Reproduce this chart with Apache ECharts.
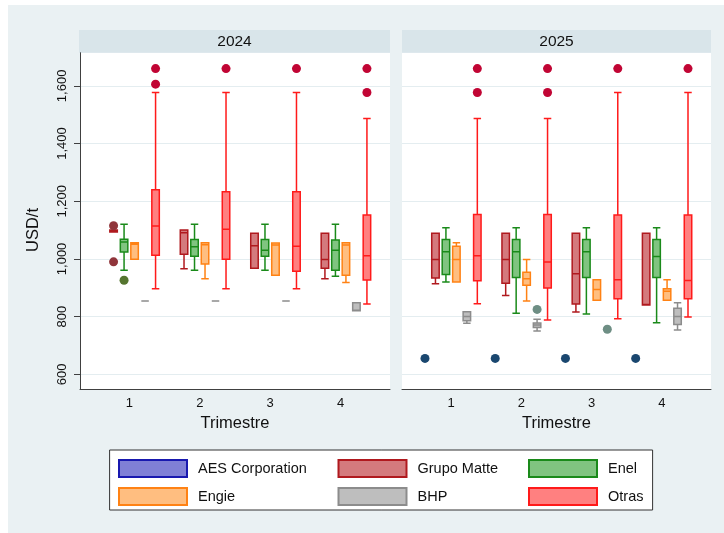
<!DOCTYPE html>
<html>
<head>
<meta charset="utf-8">
<script src="https://cdn.jsdelivr.net/npm/echarts@6/dist/echarts.min.js"></script>
<style>
html,body{margin:0;padding:0;background:#fff;}
#chart{width:724px;height:533px;}
</style>
</head>
<body>
<div id="chart"></div>
<script>
// ---------- data ----------
const quarters = [1, 2, 3, 4];
const years = ['2024', '2025'];
const companies = ['AES Corporation', 'Grupo Matte', 'Enel', 'Engie', 'BHP', 'Otras'];
const yTicks = [600, 800, 1000, 1200, 1400, 1600];

// box stats per quarter: [lower whisker, Q1, median, Q3, upper whisker]; null = no box
const aes2024   = [null, null, null, null];
const matte2024 = [[1093,1093,1097,1100,1100],[966,1016,1091,1100,1100],[968,968,1046,1089,1089],[931,968,998,1089,1089]];
const enel2024  = [[961,1024,1059,1068,1120],[961,1009,1042,1067,1120],[961,1009,1030,1067,1120],[940,961,1030,1066,1120]];
const engie2024 = [[999,999,1051,1056,1056],[931,982,1049,1056,1056],[943,943,1048,1055,1055],[918,943,1048,1056,1056]];
const bhp2024   = [[854,854,854,854,854],[854,854,854,854,854],[854,854,854,854,854],[820,820,822,848,848]];
const otras2024 = [[897,1013,1114,1240,1577],[897,999,1103,1233,1577],[897,957,1044,1233,1577],[844,927,1011,1152,1487]];

const aes2025   = [null, null, null, null];
const matte2025 = [[914,934,998,1089,1089],[873,916,998,1089,1089],[816,844,949,1089,1089],[840,840,842,1089,1089]];
const enel2025  = [[920,946,1025,1067,1108],[812,936,1025,1067,1108],[809,936,1025,1067,1108],[779,936,1008,1067,1108]];
const engie2025 = [[920,920,998,1044,1056],[854,909,931,954,998],[857,857,894,928,928],[857,857,888,897,928]];
const bhp2025   = [[777,786,800,817,817],[750,762,771,778,791],null,[754,773,800,829,848]];
const otras2025 = [[845,924,1011,1154,1487],[788,899,989,1154,1487],[793,862,928,1152,1577],[799,862,925,1152,1577]];

// outside values: [quarter, value]
const aesOut2024   = [];
const matteOut2024 = [[1,1115],[1,990]];
const enelOut2024  = [[1,926]];
const engieOut2024 = [];
const bhpOut2024   = [];
const otrasOut2024 = [[1,1660],[1,1606],[2,1660],[3,1660],[4,1660],[4,1577]];

const aesOut2025   = [[1,655],[2,655],[3,655],[4,655]];
const matteOut2025 = [];
const enelOut2025  = [];
const engieOut2025 = [];
const bhpOut2025   = [[2,825],[3,756]];
const otrasOut2025 = [[1,1660],[1,1577],[2,1660],[2,1577],[3,1660],[4,1660]];

// ---------- styles ----------
const boxes = {
  '2024': [aes2024, matte2024, enel2024, engie2024, bhp2024, otras2024],
  '2025': [aes2025, matte2025, enel2025, engie2025, bhp2025, otras2025]
};
const outs = {
  '2024': [aesOut2024, matteOut2024, enelOut2024, engieOut2024, bhpOut2024, otrasOut2024],
  '2025': [aesOut2025, matteOut2025, enelOut2025, engieOut2025, bhpOut2025, otrasOut2025]
};
const fillColors   = ['#8080d6', '#d47a7d', '#80c480', '#ffbe80', '#bebebe', '#ff8080'];
const borderColors = ['#1919af', '#b0191e', '#1a8a1a', '#ff8214', '#8c8c8c', '#ff1a1a'];
const outColors    = ['#1a476f', '#90353b', '#55752f', '#e37e00', '#6e8e84', '#c10534'];

const FONT = '"Liberation Sans", Arial, sans-serif';
const TXT = '#111111';
const grids = [
  {left: 80, top: 52.7, width: 310, height: 336.6},
  {left: 402, top: 52.7, width: 309, height: 336.6}
];

// pixel offset of each company's box within a quarter (same rule as the boxplot layout)
function slotOffsets(gridWidth) {
  const band = gridWidth / quarters.length;
  const avail = band * 0.8 - 2;
  const gap = avail / companies.length * 0.3;
  const bw = (avail - gap * (companies.length - 1)) / companies.length;
  const res = [];
  let base = bw / 2 - avail / 2;
  for (let i = 0; i < companies.length; i++) { res.push(base); base += gap + bw; }
  return res;
}
const fmt = v => String(v).replace(/\B(?=(\d{3})+(?!\d))/g, ',');

const xAxis = [], yAxis = [], series = [];
years.forEach((yr, g) => {
  xAxis.push({
    type: 'value', gridIndex: g, min: 0.3, max: 4.7,
    axisLine: {show: true, onZero: false, lineStyle: {color: '#404040', width: 1}},
    axisTick: {show: false},
    splitLine: {show: false},
    axisLabel: {customValues: quarters, fontSize: 13, color: TXT, fontFamily: FONT, margin: 8},
    name: 'Trimestre', nameLocation: 'middle', nameGap: 24,
    nameTextStyle: {fontSize: 16.5, color: TXT, fontFamily: FONT}
  });
  yAxis.push({
    type: 'value', gridIndex: g, min: 548, max: 1715,
    name: g === 0 ? 'USD/t' : '', nameLocation: 'middle', nameGap: 38, nameRotate: 90,
    nameTextStyle: {fontSize: 16.5, color: TXT, fontFamily: FONT, padding: [0, 18, 0, 0]},
    axisLine: {show: g === 0, onZero: false, lineStyle: {color: '#404040', width: 1}},
    axisTick: {show: g === 0, length: 6, customValues: yTicks, lineStyle: {color: '#404040'}},
    axisLabel: {show: g === 0, customValues: yTicks, rotate: 90, margin: 11, fontSize: 13, color: TXT, fontFamily: FONT, formatter: fmt},
    splitLine: {show: true, lineStyle: {color: '#e4edf0', width: 1}}
  });
  const offs = slotOffsets(grids[g].width);
  companies.forEach((c, i) => {
    const data = [];
    boxes[yr][i].forEach((s, qi) => { if (s) data.push([quarters[qi]].concat(s)); });
    series.push({
      type: 'boxplot', name: c, xAxisIndex: g, yAxisIndex: g, layout: 'horizontal',
      boxWidth: [7, 50],
      itemStyle: {color: fillColors[i], borderColor: borderColors[i], borderWidth: 1.5},
      emphasis: {disabled: true},
      data: data, z: 2
    });
  });
  companies.forEach((c, i) => {
    series.push({
      type: 'scatter', name: c + ' (valores externos)', xAxisIndex: g, yAxisIndex: g,
      symbol: 'circle', symbolSize: 9, symbolOffset: [offs[i], 0],
      itemStyle: {color: outColors[i], opacity: 1},
      emphasis: {disabled: true},
      data: outs[yr][i], z: 3
    });
  });
});

const legendItem = i => ({
  name: companies[i],
  itemStyle: {color: fillColors[i], borderColor: borderColors[i], borderWidth: 2}
});
const legendBase = {
  orient: 'vertical', top: 454, itemWidth: 68, itemHeight: 17, itemGap: 9, icon: 'rect',
  selectedMode: false,
  textStyle: {fontSize: 14.5, color: TXT, fontFamily: FONT, padding: [0, 0, 0, 6]}
};

const option = {
  animation: false,
  backgroundColor: '#eaf1f3',
  textStyle: {fontFamily: FONT},
  grid: grids.map(gr => Object.assign({show: true, backgroundColor: '#ffffff', borderWidth: 0, containLabel: false}, gr)),
  xAxis: xAxis,
  yAxis: yAxis,
  legend: [
    Object.assign({}, legendBase, {left: 113, data: [legendItem(0), legendItem(3)]}),
    Object.assign({}, legendBase, {left: 332.5, data: [legendItem(1), legendItem(4)]}),
    Object.assign({}, legendBase, {left: 523, data: [legendItem(2), legendItem(5)]})
  ],
  graphic: [
    {type: 'rect', shape: {x: 0, y: 0, width: 724, height: 5}, style: {fill: '#ffffff'}, silent: true},
    {type: 'rect', shape: {x: 0, y: 0, width: 8, height: 533}, style: {fill: '#ffffff'}, silent: true},
    {type: 'rect', shape: {x: 79, y: 30, width: 311, height: 22.7}, style: {fill: '#d9e5ea'}, silent: true},
    {type: 'rect', shape: {x: 402, y: 30, width: 309, height: 22.7}, style: {fill: '#d9e5ea'}, silent: true},
    {type: 'text', x: 234.5, y: 41.5, style: {text: years[0], fill: TXT, font: '15.5px ' + FONT, textAlign: 'center', textVerticalAlign: 'middle'}, silent: true},
    {type: 'text', x: 556.5, y: 41.5, style: {text: years[1], fill: TXT, font: '15.5px ' + FONT, textAlign: 'center', textVerticalAlign: 'middle'}, silent: true},
    {type: 'rect', z: -1, shape: {x: 109.6, y: 450, width: 543, height: 60}, style: {fill: '#ffffff', stroke: '#333333', lineWidth: 1}, silent: true}
  ],
  series: series
};

const chart = echarts.init(document.getElementById('chart'), null, {renderer: 'canvas'});
chart.setOption(option);
</script>
</body>
</html>
